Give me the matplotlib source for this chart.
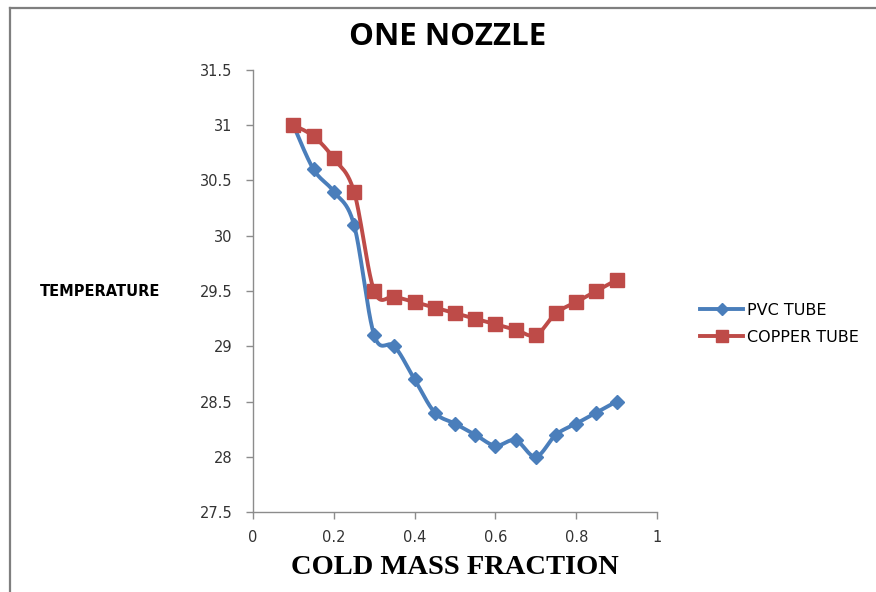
import numpy as np
import matplotlib
matplotlib.use("Agg")
import matplotlib.pyplot as plt
from matplotlib.lines import Line2D

cold_fraction = [0.10, 0.15, 0.20, 0.25, 0.30, 0.35, 0.40, 0.45, 0.50,
                 0.55, 0.60, 0.65, 0.70, 0.75, 0.80, 0.85, 0.90]
pvc_temp = [31.0, 30.6, 30.4, 30.1, 29.1, 29.0, 28.7, 28.4, 28.3,
            28.2, 28.1, 28.15, 28.0, 28.2, 28.3, 28.4, 28.5]
copper_temp = [31.0, 30.9, 30.7, 30.4, 29.5, 29.45, 29.4, 29.35, 29.3,
               29.25, 29.2, 29.15, 29.1, 29.3, 29.4, 29.5, 29.6]
series_names = ["PVC TUBE", "COPPER TUBE"]
x_ticks = [0, 0.2, 0.4, 0.6, 0.8, 1]
y_ticks = [27.5, 28, 28.5, 29, 29.5, 30, 30.5, 31, 31.5]

BLUE = "#4A7EBB"
RED = "#BE4B48"
GRAY = "#8C8C8C"


def smooth(xs, ys, n=24):
    """Cardinal (Catmull-Rom) Bezier smoothing like spreadsheet smoothed lines."""
    xs = np.asarray(xs, float)
    ys = np.asarray(ys, float)
    px = np.concatenate([[xs[0]], xs, [xs[-1]]])
    py = np.concatenate([[ys[0]], ys, [ys[-1]]])
    out_x, out_y = [], []
    t = np.linspace(0, 1, n)
    for i in range(1, len(px) - 2):
        p0 = np.array([px[i], py[i]])
        p3 = np.array([px[i + 1], py[i + 1]])
        c1 = p0 + (np.array([px[i + 1], py[i + 1]]) - np.array([px[i - 1], py[i - 1]])) / 6
        c2 = p3 - (np.array([px[i + 2], py[i + 2]]) - np.array([px[i], py[i]])) / 6
        b = ((1 - t) ** 3)[:, None] * p0 + (3 * (1 - t) ** 2 * t)[:, None] * c1 \
            + (3 * (1 - t) * t ** 2)[:, None] * c2 + (t ** 3)[:, None] * p3
        out_x.extend(b[:, 0])
        out_y.extend(b[:, 1])
    return out_x, out_y


fig = plt.figure(figsize=(8.76, 5.92), dpi=100)
ax = fig.add_axes([0.2888, 0.1351, 0.75 - 0.2888, 0.8818 - 0.1351])

sx, sy = smooth(cold_fraction, pvc_temp)
ax.plot(sx, sy, color=BLUE, lw=2.8, solid_capstyle="round", zorder=3)
ax.plot(cold_fraction, pvc_temp, ls="none", marker="D", ms=7.5, color=BLUE, zorder=4)

sx, sy = smooth(cold_fraction, copper_temp)
ax.plot(sx, sy, color=RED, lw=2.8, solid_capstyle="round", zorder=5)
ax.plot(cold_fraction, copper_temp, ls="none", marker="s", ms=10, color=RED, zorder=6)

ax.set_xlim(0, 1)
ax.set_ylim(27.5, 31.5)
ax.set_xticks(x_ticks)
ax.set_xticklabels(["0", "0.2", "0.4", "0.6", "0.8", "1"])
ax.set_yticks(y_ticks)
ax.set_yticklabels(["27.5", "28", "28.5", "29", "29.5", "30", "30.5", "31", "31.5"])
for s in ["top", "right"]:
    ax.spines[s].set_visible(False)
for s in ["left", "bottom"]:
    ax.spines[s].set_color(GRAY)
    ax.spines[s].set_linewidth(1.0)
ax.tick_params(axis="both", direction="out", length=5, color=GRAY, width=1,
               labelsize=10.5, labelcolor="#333333")
ax.tick_params(axis="y", pad=10)
ax.tick_params(axis="x", pad=8)
for lab in ax.get_xticklabels() + ax.get_yticklabels():
    lab.set_family("DejaVu Sans")

fig.text(0.511, 0.937, "ONE NOZZLE", ha="center", va="center",
         fontsize=22.5, fontweight="bold", family="Open Sans")
fig.text(0.046, 0.508, "TEMPERATURE", ha="left", va="center",
         fontsize=10.5, fontweight="bold", family="DejaVu Sans")
fig.text(0.519, 0.042, "COLD MASS FRACTION", ha="center", va="center",
         fontsize=20.5, fontweight="bold", family="Liberation Serif")

handles = [
    Line2D([], [], color=BLUE, lw=2.8, marker="D", ms=6),
    Line2D([], [], color=RED, lw=2.8, marker="s", ms=8),
]
fig.legend(handles, series_names, loc="center left", bbox_to_anchor=(0.783, 0.453),
           frameon=False, handlelength=2.7, handletextpad=0.2,
           labelspacing=0.75, prop={"family": "DejaVu Sans", "size": 11.5})

# chart area border
fig.add_artist(Line2D([0.011, 0.011], [0.0, 0.987], color="#7F7F7F", lw=1.6,
                      transform=fig.transFigure))
fig.add_artist(Line2D([0.011, 1.0], [0.987, 0.987], color="#7F7F7F", lw=1.6,
                      transform=fig.transFigure))

fig.savefig("out.png", dpi=100)
